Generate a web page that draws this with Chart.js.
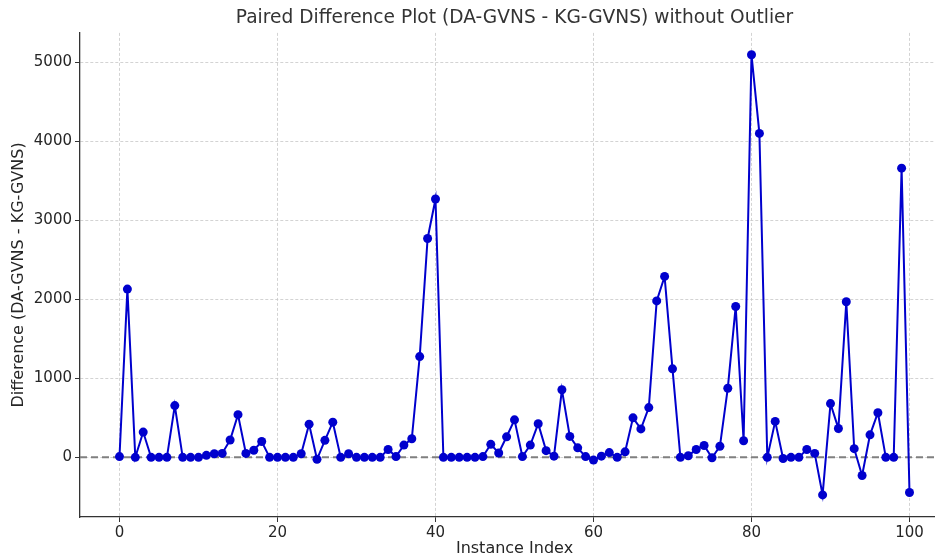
<!DOCTYPE html>
<html>
<head>
<meta charset="utf-8">
<script src="https://cdn.jsdelivr.net/npm/chart.js@4.4.1/dist/chart.umd.min.js"></script>
<style>
  body { margin: 0; background: #fff; }
  #wrap { width: 935px; height: 560px; overflow: hidden; }
</style>
</head>
<body>
<div id="wrap"><canvas id="MyChart" width="960" height="560"></canvas></div>
<script>
// paired differences, one per instance (index 0..100)
const differences = [
  10, 2130, 0, 320, 0, 0, 0, 655, 0, 0,
  0, 25, 45, 50, 220, 540, 50, 90, 200, 0,
  0, 0, 0, 45, 420, -25, 215, 445, 0, 45,
  0, 0, 0, 0, 100, 10, 155, 235, 1275, 2770,
  3270, 0, 0, 0, 0, 0, 10, 165, 55, 260,
  475, 10, 155, 425, 85, 15, 855, 265, 120, 10,
  -35, 15, 60, 0, 70, 500, 360, 630, 1980, 2290,
  1120, 0, 20, 100, 150, -5, 140, 875, 1910, 210,
  5095, 4100, 0, 455, -15, 0, 0, 100, 50, -475,
  680, 365, 1970, 110, -230, 285, 565, 0, 0, 3660,
  -445
]
const xTicks = [0, 20, 40, 60, 80, 100]
const yTicks = [0, 1000, 2000, 3000, 4000, 5000]
const zeroLine = 0

const points = differences.map((d, i) => ({x: i, y: d}))

const font = 'DejaVu Sans'
const textColor = '#262626'

// dashed gray reference line at zero, across the whole plot area
const zeroLinePlugin = {
  id: 'zeroLine',
  beforeDatasetsDraw(chart){
    const {ctx, chartArea, scales} = chart
    const y = scales.y.getPixelForValue(zeroLine)
    ctx.save()
    ctx.strokeStyle = '#808080'
    ctx.lineWidth = 2
    ctx.setLineDash([7, 4])
    ctx.beginPath()
    ctx.moveTo(chartArea.left, y)
    ctx.lineTo(chartArea.right, y)
    ctx.stroke()
    ctx.restore()
  }
}

const ctx = document.getElementById('MyChart').getContext('2d')
new Chart(ctx, {
  type: 'line',
  data: {
    datasets: [{
      label: 'Difference',
      data: points,
      borderColor: '#0000cd',
      backgroundColor: '#0000cd',
      borderWidth: 2,
      pointRadius: 4.5,
      pointBorderWidth: 0,
      pointHoverRadius: 4.5,
      tension: 0,
      fill: false,
    }]
  },
  options: {
    responsive: false,
    animation: false,
    devicePixelRatio: 1,
    layout: { padding: { left: 0, right: 11, top: 0, bottom: 0 } },
    plugins: {
      legend: { display: false },
      tooltip: { enabled: false },
      title: {
        display: true,
        fullSize: false,
        text: 'Paired Difference Plot (DA-GVNS - KG-GVNS) without Outlier',
        color: '#333',
        font: { family: font, size: 18.6, weight: 'normal' },
        padding: { top: 7, bottom: 3.6 },
      },
    },
    scales: {
      x: {
        type: 'linear',
        min: -5,
        max: 105,
        afterBuildTicks: (scale) => { scale.ticks = xTicks.map(v => ({value: v})) },
        afterFit: (scale) => { scale.height = 43 },
        ticks: {
          color: textColor,
          font: { family: font, size: 15 },
          padding: 2,
          maxRotation: 0,
          callback: (v) => String(v),
        },
        grid: {
          color: '#c8c8c8',
          lineWidth: 0.8,
          tickColor: '#333',
          tickLength: 5,
          tickWidth: 1,
        },
        border: { display: true, color: '#333', width: 1.3, dash: [3, 2] },
        title: {
          display: true,
          text: 'Instance Index',
          color: textColor,
          font: { family: font, size: 16 },
          padding: { top: 0, bottom: 2 },
        },
      },
      y: {
        min: -755,
        max: 5372,
        afterBuildTicks: (scale) => { scale.ticks = yTicks.map(v => ({value: v})) },
        afterFit: (scale) => { scale.width = 80 },
        ticks: {
          color: textColor,
          font: { family: font, size: 15 },
          padding: 3,
          callback: (v) => String(v),
        },
        grid: {
          color: '#c8c8c8',
          lineWidth: 0.8,
          tickColor: '#333',
          tickLength: 5,
          tickWidth: 1,
        },
        border: { display: true, color: '#333', width: 1.3, dash: [3, 2] },
        title: {
          display: true,
          text: 'Difference (DA-GVNS - KG-GVNS)',
          color: textColor,
          font: { family: font, size: 16 },
          padding: { top: 9, bottom: 0 },
        },
      }
    }
  },
  plugins: [zeroLinePlugin]
})
</script>
</body>
</html>
